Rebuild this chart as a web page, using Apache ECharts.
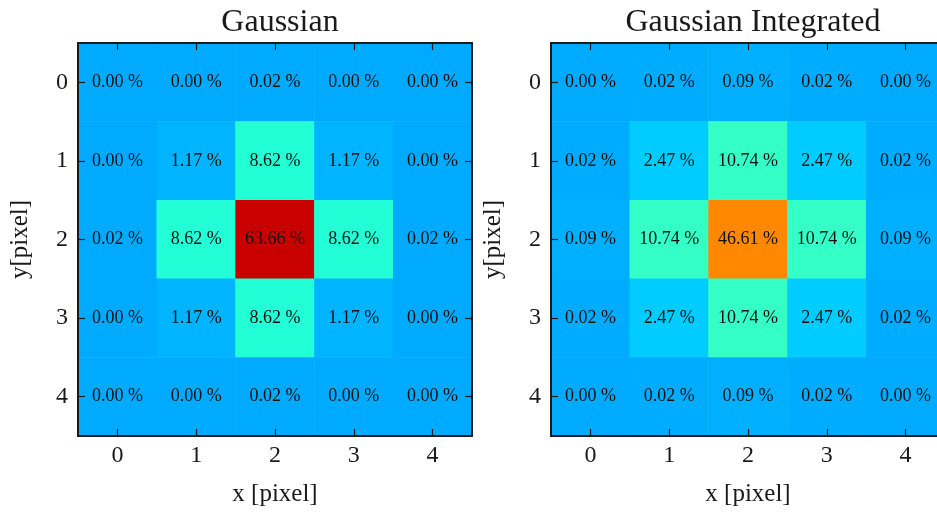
<!DOCTYPE html>
<html>
<head>
<meta charset="utf-8">
<script src="https://cdn.jsdelivr.net/npm/echarts@6/dist/echarts.min.js"></script>
<style>
  html, body { margin: 0; padding: 0; background: #fff; overflow: hidden; }
  #chart { width: 960px; height: 512px; }
</style>
</head>
<body>
<div id="chart"></div>
<script>
// Pixel indices along both axes
const xCategories = ['0', '1', '2', '3', '4'];
const yCategories = ['0', '1', '2', '3', '4'];

// Fraction of flux per pixel (%), rows are y = 0..4
const gaussianValues = [
  [0.00, 0.00, 0.02, 0.00, 0.00],
  [0.00, 1.17, 8.62, 1.17, 0.00],
  [0.02, 8.62, 63.66, 8.62, 0.02],
  [0.00, 1.17, 8.62, 1.17, 0.00],
  [0.00, 0.00, 0.02, 0.00, 0.00]
];
const integratedValues = [
  [0.00, 0.02, 0.09, 0.02, 0.00],
  [0.02, 2.47, 10.74, 2.47, 0.02],
  [0.09, 10.74, 46.61, 10.74, 0.09],
  [0.02, 2.47, 10.74, 2.47, 0.02],
  [0.00, 0.02, 0.09, 0.02, 0.00]
];

const titles = ['Gaussian', 'Gaussian Integrated'];
const xName = 'x [pixel]';
const yName = 'y[pixel]';

const FONT = "'Liberation Serif', 'DejaVu Serif', serif";
const INK = '#1a1a1a';

function toCells(rows) {
  const out = [];
  rows.forEach((row, y) => row.forEach((v, x) => out.push([x, y, v])));
  return out;
}

// The canvas is wider than the window, so the second panel runs off the right edge
const gridLefts = [78, 551];
const gridBox = { top: 43, width: 394, height: 395 };

const grids = gridLefts.map(l => ({ left: l, top: gridBox.top, width: gridBox.width, height: gridBox.height }));

const tickStyle = { show: true, inside: true, length: 7, alignWithLabel: true, lineStyle: { color: INK, width: 1.2 } };
const lineStyle = { show: true, lineStyle: { color: INK, width: 2 } };

const xAxes = [];
const yAxes = [];
gridLefts.forEach((_, g) => {
  xAxes.push({
    type: 'category', gridIndex: g, data: xCategories, position: 'bottom', z: 10,
    axisLine: lineStyle, axisTick: tickStyle, splitLine: { show: false },
    axisLabel: { color: INK, fontFamily: FONT, fontSize: 24, margin: 8 },
    name: xName, nameLocation: 'middle', nameGap: 46,
    nameTextStyle: { color: INK, fontFamily: FONT, fontSize: 25 }
  });
  xAxes.push({
    type: 'category', gridIndex: g, data: xCategories, position: 'top', z: 10,
    axisLine: lineStyle, axisTick: tickStyle, axisLabel: { show: false }, splitLine: { show: false }
  });
  yAxes.push({
    type: 'category', gridIndex: g, data: yCategories, position: 'left', inverse: true, z: 10,
    axisLine: lineStyle, axisTick: tickStyle, splitLine: { show: false },
    axisLabel: { color: INK, fontFamily: FONT, fontSize: 24, margin: 10 },
    name: yName, nameLocation: 'middle', nameGap: 45, nameRotate: 90,
    nameTextStyle: { color: INK, fontFamily: FONT, fontSize: 25 }
  });
  yAxes.push({
    type: 'category', gridIndex: g, data: yCategories, position: 'right', inverse: true, z: 10,
    axisLine: lineStyle, axisTick: tickStyle, axisLabel: { show: false }, splitLine: { show: false }
  });
});

const cellLabel = {
  show: true, color: '#111', fontFamily: FONT, fontSize: 18,
  formatter: p => p.value[2].toFixed(2) + ' %'
};

const option = {
  animation: false,
  title: titles.map((t, g) => ({
    text: t, left: gridLefts[g] + gridBox.width / 2, top: 2, textAlign: 'center',
    textStyle: { color: INK, fontFamily: FONT, fontSize: 32, fontWeight: 'normal' }
  })),
  grid: grids,
  xAxis: xAxes,
  yAxis: yAxes,
  visualMap: [
    {
      type: 'piecewise', show: false, seriesIndex: 0, dimension: 2,
      pieces: [
        { lt: 0.01, color: '#00aaff' },
        { gte: 0.01, lt: 0.5, color: '#00abff' },
        { gte: 0.5, lt: 5, color: '#00b4ff' },
        { gte: 5, lt: 30, color: '#22ffd6' },
        { gte: 30, color: '#c80000' }
      ]
    },
    {
      type: 'piecewise', show: false, seriesIndex: 1, dimension: 2,
      pieces: [
        { lt: 0.01, color: '#00aaff' },
        { gte: 0.01, lt: 0.05, color: '#00acff' },
        { gte: 0.05, lt: 1, color: '#00afff' },
        { gte: 1, lt: 5, color: '#00ccff' },
        { gte: 5, lt: 30, color: '#33ffc6' },
        { gte: 30, color: '#ff8800' }
      ]
    }
  ],
  series: [
    {
      type: 'heatmap', xAxisIndex: 0, yAxisIndex: 0,
      data: toCells(gaussianValues), label: cellLabel, emphasis: { disabled: true }
    },
    {
      type: 'heatmap', xAxisIndex: 2, yAxisIndex: 2,
      data: toCells(integratedValues), label: cellLabel, emphasis: { disabled: true }
    }
  ]
};

const chart = echarts.init(document.getElementById('chart'), null, { renderer: 'canvas' });
chart.setOption(option);
</script>
</body>
</html>
